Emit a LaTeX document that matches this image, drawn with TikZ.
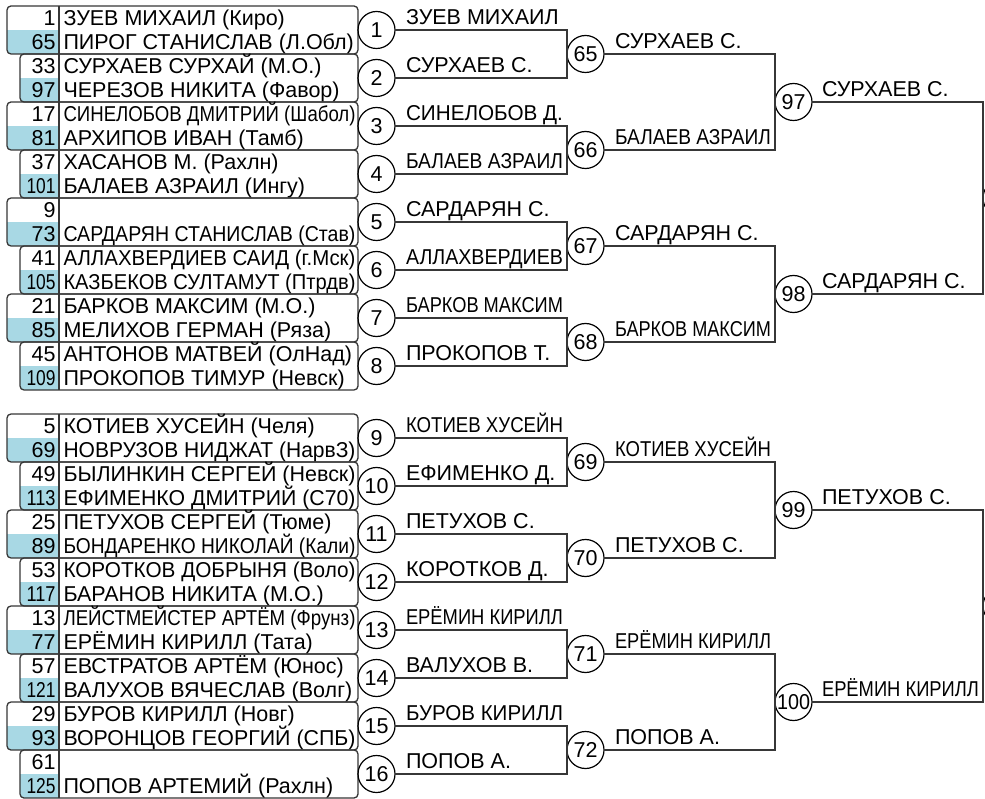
\documentclass[tikz,border=0pt]{standalone}
\usepackage{fontspec}
\setmainfont{Liberation Sans}
\usepackage{graphicx}
\newsavebox\fitbox
\newcommand\fitw[2]{\sbox\fitbox{#2}\ifdim\wd\fitbox>#1\relax\resizebox{#1}{\height}{\usebox\fitbox}\else\usebox\fitbox\fi}
\definecolor{cellblue}{RGB}{168,216,228}
\definecolor{linegray}{RGB}{55,55,55}
\begin{document}
\begin{tikzpicture}[x=1pt,y=-1pt,
  every node/.style={font=\fontsize{21.5}{24}\selectfont, inner sep=0pt, outer sep=0pt},
  boxframe/.style={draw=linegray, line width=1.3pt, rounded corners=4pt, minimum height=48pt, anchor=north west},
  divline/.style={draw=linegray, line width=1.3pt},
  circ/.style={circle, draw=black, line width=1.2pt, minimum size=37pt},
  conn/.style={draw=linegray, line width=1.3pt},
  lab/.style={anchor=base west}]
\useasboundingbox (0,0) rectangle (985,799);
\fill[white] (0,0) rectangle (985,799);
% ---------- player boxes ----------
\foreach \k/\na/\pa/\nb/\pb in {
 1/1/{ЗУЕВ МИХАИЛ (Киро)}/65/{ПИРОГ СТАНИСЛАВ (Л.Обл)},
 2/33/{СУРХАЕВ СУРХАЙ (М.О.)}/97/{ЧЕРЕЗОВ НИКИТА (Фавор)},
 3/17/{СИНЕЛОБОВ ДМИТРИЙ (Шабол)}/81/{АРХИПОВ ИВАН (Тамб)},
 4/37/{ХАСАНОВ М. (Рахлн)}/101/{БАЛАЕВ АЗРАИЛ (Ингу)},
 5/9/{}/73/{САРДАРЯН СТАНИСЛАВ (Став)},
 6/41/{АЛЛАХВЕРДИЕВ САИД (г.Мск)}/105/{КАЗБЕКОВ СУЛТАМУТ (Птрдв)},
 7/21/{БАРКОВ МАКСИМ (М.О.)}/85/{МЕЛИХОВ ГЕРМАН (Ряза)},
 8/45/{АНТОНОВ МАТВЕЙ (ОлНад)}/109/{ПРОКОПОВ ТИМУР (Невск)},
 9/5/{КОТИЕВ ХУСЕЙН (Челя)}/69/{НОВРУЗОВ НИДЖАТ (НарвЗ)},
 10/49/{БЫЛИНКИН СЕРГЕЙ (Невск)}/113/{ЕФИМЕНКО ДМИТРИЙ (С70)},
 11/25/{ПЕТУХОВ СЕРГЕЙ (Тюме)}/89/{БОНДАРЕНКО НИКОЛАЙ (Кали)},
 12/53/{КОРОТКОВ ДОБРЫНЯ (Воло)}/117/{БАРАНОВ НИКИТА (М.О.)},
 13/13/{ЛЕЙСТМЕЙСТЕР АРТЁМ (Фрунз)}/77/{ЕРЁМИН КИРИЛЛ (Тата)},
 14/57/{ЕВСТРАТОВ АРТЁМ (Юнос)}/121/{ВАЛУХОВ ВЯЧЕСЛАВ (Волг)},
 15/29/{БУРОВ КИРИЛЛ (Новг)}/93/{ВОРОНЦОВ ГЕОРГИЙ (СПБ)},
 16/61/{}/125/{ПОПОВ АРТЕМИЙ (Рахлн)}}{
  \pgfmathsetmacro\T{6+48*(\k-1)+(\k>8)*24}
  \pgfmathsetmacro\L{mod(\k,2)==1 ? 7 : 20}
  \pgfmathsetmacro\W{358-\L}
  \begin{scope}
    \clip[rounded corners=4pt] (\L,\T) rectangle (358,\T+48);
    \fill[cellblue] (\L,\T+24) rectangle (59,\T+48);
  \end{scope}
  \node[boxframe, minimum width=\W pt] (b\k) at (\L,\T) {};
  \draw[divline] (59,\T) -- (59,\T+48);
  \node[anchor=base east] (na\k) at (55.5,\T+19.5) {\fitw{29pt}{\na}};
  \node[anchor=base west] (pa\k) at (63.5,\T+19.5) {\fitw{292pt}{\pa}};
  \node[anchor=base east] (nb\k) at (55.5,\T+43.5) {\fitw{29pt}{\nb}};
  \node[anchor=base west] (pb\k) at (63.5,\T+43.5) {\fitw{292pt}{\pb}};
  \node[circ] (c\k) at (376.5,\T+24) {\fitw{33pt}{\k}};
}
% ---------- round 2 circles ----------
\foreach \j in {1,...,8}{
  \pgfmathtruncatemacro\m{64+\j}
  \pgfmathsetmacro\Y{54+96*(\j-1)+(\j>4)*24}
  \node[circ] (c\m) at (585.5,\Y) {\fitw{33pt}{\m}};
}
% ---------- round 3 circles ----------
\foreach \i in {1,...,4}{
  \pgfmathtruncatemacro\m{96+\i}
  \pgfmathsetmacro\Y{102+192*(\i-1)+(\i>2)*24}
  \node[circ] (c\m) at (793.5,\Y) {\fitw{33pt}{\m}};
}
% ---------- semifinal circles (mostly off the page) ----------
\node[circ] (f1) at (1001.5,198) {};
\node[circ] (f2) at (1001.5,606) {};
% ---------- connectors ----------
\foreach \j in {1,...,8}{
  \pgfmathtruncatemacro\a{2*\j-1}
  \pgfmathtruncatemacro\b{2*\j}
  \pgfmathtruncatemacro\m{64+\j}
  \draw[conn] (c\a.east) -- (c\a.east -| c\m.west) -- (c\b.east -| c\m.west) -- (c\b.east);
}
\foreach \i in {1,...,4}{
  \pgfmathtruncatemacro\a{63+2*\i}
  \pgfmathtruncatemacro\b{64+2*\i}
  \pgfmathtruncatemacro\m{96+\i}
  \draw[conn] (c\a.east) -- (c\a.east -| c\m.west) -- (c\b.east -| c\m.west) -- (c\b.east);
}
\draw[conn] (c97.east) -- (c97.east -| f1.west) -- (c98.east -| f1.west) -- (c98.east);
\draw[conn] (c99.east) -- (c99.east -| f2.west) -- (c100.east -| f2.west) -- (c100.east);
% ---------- winner labels ----------
\foreach \k/\w in {1/ЗУЕВ МИХАИЛ, 2/СУРХАЕВ С., 3/СИНЕЛОБОВ Д., 4/БАЛАЕВ АЗРАИЛ,
  5/САРДАРЯН С., 6/АЛЛАХВЕРДИЕВ, 7/БАРКОВ МАКСИМ, 8/ПРОКОПОВ Т.,
  9/КОТИЕВ ХУСЕЙН, 10/ЕФИМЕНКО Д., 11/ПЕТУХОВ С., 12/КОРОТКОВ Д.,
  13/ЕРЁМИН КИРИЛЛ, 14/ВАЛУХОВ В., 15/БУРОВ КИРИЛЛ, 16/ПОПОВ А.}{
  \node[lab] (w\k) at ([xshift=11pt,yshift=5.5pt]c\k.east) {\fitw{157pt}{\w}};
}
\foreach \k/\w in {65/СУРХАЕВ С., 66/БАЛАЕВ АЗРАИЛ, 67/САРДАРЯН С., 68/БАРКОВ МАКСИМ,
  69/КОТИЕВ ХУСЕЙН, 70/ПЕТУХОВ С., 71/ЕРЁМИН КИРИЛЛ, 72/ПОПОВ А.}{
  \node[lab] (w\k) at ([xshift=11pt,yshift=5.5pt]c\k.east) {\fitw{156pt}{\w}};
}
\foreach \k/\w in {97/СУРХАЕВ С., 98/САРДАРЯН С., 99/ПЕТУХОВ С., 100/ЕРЁМИН КИРИЛЛ}{
  \node[lab] (w\k) at ([xshift=10pt,yshift=5.5pt]c\k.east) {\fitw{157pt}{\w}};
}
\end{tikzpicture}
\end{document}
